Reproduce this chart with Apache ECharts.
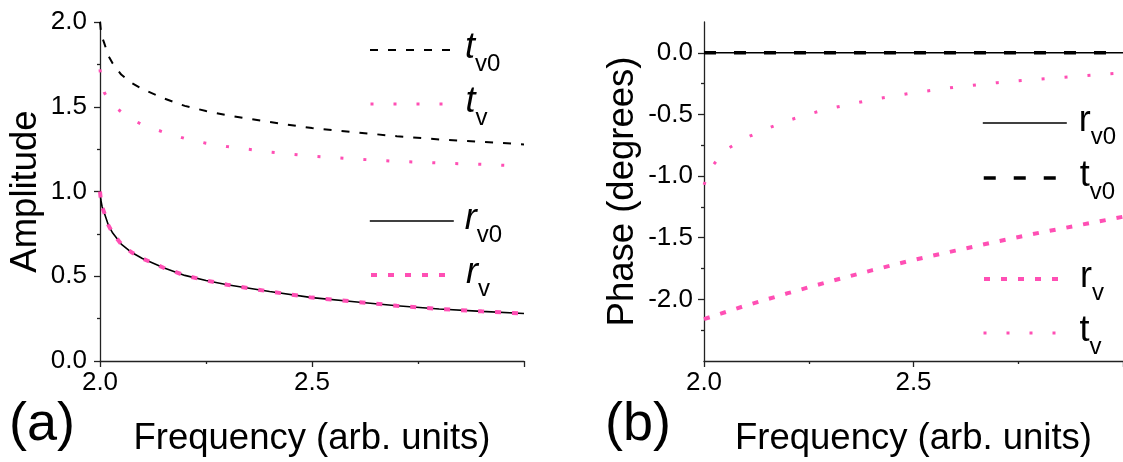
<!DOCTYPE html>
<html>
<head>
<meta charset="utf-8">
<script src="https://cdn.jsdelivr.net/npm/echarts@6/dist/echarts.min.js"></script>
<style>
html, body { margin: 0; padding: 0; background: #fff; }
#chart { width: 1123px; height: 462px; }
</style>
</head>
<body>
<div id="chart"></div>
<script>
// (a) amplitude panel
var freqA = [2.0, 2.002, 2.005, 2.01, 2.02, 2.03, 2.05, 2.075, 2.1, 2.15, 2.2, 2.25, 2.3, 2.4, 2.5, 2.6, 2.7, 2.8, 2.9, 3.0];
var rv0A = [1.0, 0.95, 0.91, 0.875, 0.80, 0.755, 0.69, 0.64, 0.605, 0.55, 0.505, 0.475, 0.45, 0.41, 0.374, 0.35, 0.326, 0.307, 0.293, 0.28];
var rvA  = [1.0, 0.95, 0.91, 0.875, 0.80, 0.755, 0.69, 0.64, 0.605, 0.55, 0.505, 0.475, 0.45, 0.41, 0.374, 0.35, 0.326, 0.307, 0.293, 0.28];
var tv0A = [2.0, 1.95, 1.91, 1.875, 1.80, 1.755, 1.69, 1.64, 1.605, 1.55, 1.505, 1.475, 1.45, 1.41, 1.374, 1.35, 1.326, 1.307, 1.293, 1.278];
var tvA  = [1.72, 1.67, 1.63, 1.585, 1.54, 1.51, 1.47, 1.425, 1.395, 1.35, 1.313, 1.285, 1.265, 1.233, 1.209, 1.192, 1.178, 1.168, 1.16, 1.15];

// (b) phase panel
var freqB = [2.0, 2.01, 2.02, 2.04, 2.06, 2.1, 2.15, 2.2, 2.25, 2.3, 2.4, 2.5, 2.6, 2.7, 2.8, 2.9, 3.0];
var rv0B = [0, 0, 0, 0, 0, 0, 0, 0, 0, 0, 0, 0, 0, 0, 0, 0, 0];
var tv0B = [0, 0, 0, 0, 0, 0, 0, 0, 0, 0, 0, 0, 0, 0, 0, 0, 0];
var rvB  = [-2.16, -2.149, -2.138, -2.116, -2.094, -2.05, -2.0, -1.95, -1.902, -1.855, -1.765, -1.68, -1.605, -1.53, -1.46, -1.395, -1.33];
var tvB  = [-1.07, -0.98, -0.92, -0.83, -0.77, -0.69, -0.615, -0.55, -0.497, -0.452, -0.38, -0.324, -0.278, -0.242, -0.213, -0.187, -0.163];

// tick labels
var freqTicks = [2.0, 2.5];
var ampTicks = [0, 0.5, 1.0, 1.5, 2.0];
var phaseTicks = [-2.0, -1.5, -1.0, -0.5, 0];

var PINK = '#ff4fb4';
var FONT = '"Liberation Sans", Arial, sans-serif';

function pairs(xs, ys) {
    return xs.map(function(x, i) { return [x, ys[i]]; });
}

var labelText = {
    a_tv0: '{mi|t}{s|v0}', a_tv: '{mi|t}{s|v}', a_rv0: '{mi|r}{s|v0}', a_rv: '{mi|r}{s|v}',
    b_rv0: '{m|r}{s|v0}', b_tv0: '{m|t}{s|v0}', b_rv: '{m|r}{s|v}', b_tv: '{m|t}{s|v}'
};

// line looks, shared by the series and their legend keys
var looks = {
    a_tv0: { color: '#000', width: 2, type: [8, 10] },
    a_tv:  { color: PINK, width: 3, type: [3, 20] },
    a_rv0: { color: '#000', width: 1.6, type: 'solid' },
    a_rv:  { color: PINK, width: 4, type: [6, 11] },
    b_rv0: { color: '#000', width: 1.6, type: 'solid' },
    b_tv0: { color: '#000', width: 3.5, type: [12, 18] },
    b_rv:  { color: PINK, width: 4, type: [6, 11] },
    b_tv:  { color: PINK, width: 3, type: [3, 20] }
};

function legendFor(name, left, top, pad) {
    return {
        data: [name],
        left: left,
        top: top,
        padding: 0,
        itemWidth: 84,
        itemHeight: 14,
        selectedMode: false,
        itemStyle: { color: 'rgba(0,0,0,0)', opacity: 0, borderWidth: 0 },
        lineStyle: looks[name],
        formatter: function(n) { return labelText[n]; },
        textStyle: {
            fontFamily: FONT,
            color: '#000',
            rich: {
                mi: { fontSize: 36, fontStyle: 'italic', fontFamily: FONT, lineHeight: 40, verticalAlign: 'top', padding: [0, 0, 0, pad] },
                m:  { fontSize: 36, fontFamily: FONT, lineHeight: 40, verticalAlign: 'top', padding: [0, 0, 0, pad] },
                s:  { fontSize: 24, fontFamily: FONT, lineHeight: 24, verticalAlign: 'top', padding: [22, 0, 0, 0] }
            }
        }
    };
}

function xAxisFor(gridIndex) {
    return {
        gridIndex: gridIndex,
        type: 'value',
        min: 2.0,
        max: 3.0,
        interval: 0.5,
        name: 'Frequency (arb. units)',
        nameLocation: 'middle',
        nameGap: 59,
        nameTextStyle: { fontSize: 36.5, fontFamily: FONT, color: '#000' },
        axisLine: { show: true, onZero: false, lineStyle: { color: '#222', width: 1.3 } },
        axisTick: { show: true, length: 6, customValues: [2.0, 2.5, 3.0], lineStyle: { color: '#222', width: 1.3 } },
        minorTick: { show: true, splitNumber: 2, length: 3, lineStyle: { color: '#222', width: 1.3 } },
        axisLabel: {
            customValues: freqTicks,
            margin: 9,
            fontSize: 26,
            fontFamily: FONT,
            color: '#000',
            formatter: function(v) { return v.toFixed(1); }
        },
        splitLine: { show: false }
    };
}

function lineSeries(name, axis, xs, ys) {
    return {
        name: name, type: 'line', xAxisIndex: axis, yAxisIndex: axis,
        symbol: 'none', showSymbol: false,
        data: pairs(xs, ys),
        lineStyle: looks[name],
        itemStyle: { color: looks[name].color }
    };
}

var chart = echarts.init(document.getElementById('chart'));

var option = {
    animation: false,
    backgroundColor: '#fff',
    grid: [
        { left: 100, top: 22, width: 424, height: 346 },
        { left: 704, top: 22, width: 428, height: 346 }
    ],
    xAxis: [xAxisFor(0), xAxisFor(1)],
    yAxis: [{
        gridIndex: 0,
        type: 'value',
        min: 0,
        max: 2.0,
        interval: 0.5,
        name: 'Amplitude',
        nameLocation: 'middle',
        nameGap: 56,
        nameTextStyle: { fontSize: 36.5, fontFamily: FONT, color: '#000' },
        axisLine: { show: true, onZero: false, lineStyle: { color: '#222', width: 1.3 } },
        axisTick: { show: true, length: 6, lineStyle: { color: '#222', width: 1.3 } },
        minorTick: { show: true, splitNumber: 2, length: 3, lineStyle: { color: '#222', width: 1.3 } },
        axisLabel: {
            customValues: ampTicks,
            margin: 13,
            fontSize: 26,
            fontFamily: FONT,
            color: '#000',
            formatter: function(v) { return v.toFixed(1); }
        },
        splitLine: { show: false }
    }, {
        gridIndex: 1,
        type: 'value',
        min: -2.5,
        max: 0.25,
        interval: 0.5,
        name: 'Phase (degrees)',
        nameLocation: 'middle',
        nameGap: 63,
        nameTextStyle: { fontSize: 36.5, fontFamily: FONT, color: '#000' },
        axisLine: { show: true, onZero: false, lineStyle: { color: '#222', width: 1.3 } },
        axisTick: { show: true, length: 6, customValues: phaseTicks, lineStyle: { color: '#222', width: 1.3 } },
        minorTick: { show: true, splitNumber: 2, length: 3, lineStyle: { color: '#222', width: 1.3 } },
        axisLabel: {
            customValues: phaseTicks,
            margin: 11,
            fontSize: 26,
            fontFamily: FONT,
            color: '#000',
            formatter: function(v) { return v.toFixed(1); }
        },
        splitLine: { show: false }
    }],
    legend: [
        legendFor('a_tv0', 369, 30, 6),
        legendFor('a_tv', 369, 84, 6),
        legendFor('a_rv0', 369, 201, 6),
        legendFor('a_rv', 369, 255, 6),
        legendFor('b_rv0', 982, 103, 7),
        legendFor('b_tv0', 982, 158, 7),
        legendFor('b_rv', 982, 259, 7),
        legendFor('b_tv', 982, 313, 7)
    ],
    series: [
        lineSeries('a_tv0', 0, freqA, tv0A),
        lineSeries('a_tv', 0, freqA, tvA),
        lineSeries('a_rv0', 0, freqA, rv0A),
        lineSeries('a_rv', 0, freqA, rvA),
        lineSeries('b_rv0', 1, freqB, rv0B),
        lineSeries('b_tv0', 1, freqB, tv0B),
        lineSeries('b_rv', 1, freqB, rvB),
        lineSeries('b_tv', 1, freqB, tvB)
    ],
    graphic: [{
        type: 'text', left: 9, top: 398,
        style: { text: '(a)', font: '54px ' + FONT, fill: '#000' }
    }, {
        type: 'text', left: 605, top: 398,
        style: { text: '(b)', font: '54px ' + FONT, fill: '#000' }
    }]
};

chart.setOption(option);
</script>
</body>
</html>
